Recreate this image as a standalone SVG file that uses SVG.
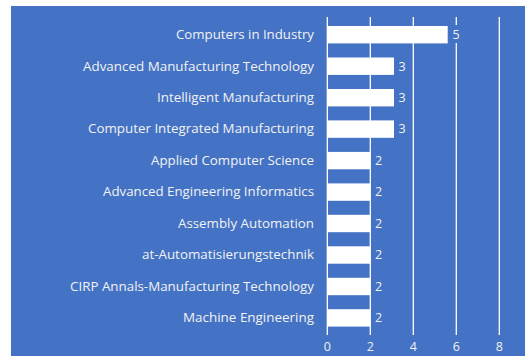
<svg xmlns="http://www.w3.org/2000/svg" width="525" height="356" viewBox="0 0 525 356">
<style>
.bg{fill:#4472C4}
.grid{stroke:#ffffff;stroke-width:1.3}
.bar{fill:#ffffff}
.lbl{font-family:"Open Sans","Liberation Sans",sans-serif;font-size:12.5px;fill:#f2f2f2;text-anchor:end}
.val{font-family:"Open Sans","Liberation Sans",sans-serif;font-size:12.5px;fill:#f2f2f2}
.tick{font-family:"Open Sans","Liberation Sans",sans-serif;font-size:12.5px;fill:#f2f2f2;text-anchor:middle}
</style>
<rect class="bg" x="11" y="6" width="514" height="350"/>
<g id="grid">
<line class="grid" x1="327.3" y1="17" x2="327.3" y2="335"/>
<line class="grid" x1="370.3" y1="17" x2="370.3" y2="335"/>
<line class="grid" x1="413.3" y1="17" x2="413.3" y2="335"/>
<line class="grid" x1="456.3" y1="17" x2="456.3" y2="335"/>
<line class="grid" x1="499.3" y1="17" x2="499.3" y2="335"/>
</g>
<g id="axis">
<text class="tick" x="327.3" y="351">0</text>
<text class="tick" x="370.3" y="351">2</text>
<text class="tick" x="413.3" y="351">4</text>
<text class="tick" x="456.3" y="351">6</text>
<text class="tick" x="499.3" y="351">8</text>
</g>
<g id="row1"><rect class="bar" x="327.3" y="26" width="120.4" height="17.4"/><text class="lbl" x="314" y="39" textLength="138" lengthAdjust="spacingAndGlyphs">Computers in Industry</text><rect class="bg" x="451" y="25" width="10" height="18"/><text class="val" x="452.5" y="39">5</text></g>
<g id="row2"><rect class="bar" x="327.3" y="57.5" width="66.7" height="17.4"/><text class="lbl" x="314" y="70.5" textLength="231" lengthAdjust="spacingAndGlyphs">Advanced Manufacturing Technology</text><text class="val" x="398.5" y="70.5">3</text></g>
<g id="row3"><rect class="bar" x="327.3" y="89" width="66.7" height="17.4"/><text class="lbl" x="314" y="102" textLength="157" lengthAdjust="spacingAndGlyphs">Intelligent Manufacturing</text><text class="val" x="398.5" y="102">3</text></g>
<g id="row4"><rect class="bar" x="327.3" y="120.4" width="66.7" height="17.4"/><text class="lbl" x="314" y="133.4" textLength="226" lengthAdjust="spacingAndGlyphs">Computer Integrated Manufacturing</text><text class="val" x="398.5" y="133.4">3</text></g>
<g id="row5"><rect class="bar" x="327.3" y="151.9" width="43" height="17.4"/><text class="lbl" x="314" y="164.9" textLength="163" lengthAdjust="spacingAndGlyphs">Applied Computer Science</text><text class="val" x="375" y="164.9">2</text></g>
<g id="row6"><rect class="bar" x="327.3" y="183.4" width="43" height="17.4"/><text class="lbl" x="314" y="196.4" textLength="211" lengthAdjust="spacingAndGlyphs">Advanced Engineering Informatics</text><text class="val" x="375" y="196.4">2</text></g>
<g id="row7"><rect class="bar" x="327.3" y="214.8" width="43" height="17.4"/><text class="lbl" x="314" y="227.8" textLength="136" lengthAdjust="spacingAndGlyphs">Assembly Automation</text><text class="val" x="375" y="227.8">2</text></g>
<g id="row8"><rect class="bar" x="327.3" y="246.3" width="43" height="17.4"/><text class="lbl" x="314" y="259.3" textLength="172" lengthAdjust="spacingAndGlyphs">at-Automatisierungstechnik</text><text class="val" x="375" y="259.3">2</text></g>
<g id="row9"><rect class="bar" x="327.3" y="277.8" width="43" height="17.4"/><text class="lbl" x="314" y="290.8" textLength="244" lengthAdjust="spacingAndGlyphs">CIRP Annals-Manufacturing Technology</text><text class="val" x="375" y="290.8">2</text></g>
<g id="row10"><rect class="bar" x="327.3" y="309.2" width="43" height="17.4"/><text class="lbl" x="314" y="322.2" textLength="131" lengthAdjust="spacingAndGlyphs">Machine Engineering</text><text class="val" x="375" y="322.2">2</text></g>
</svg>
